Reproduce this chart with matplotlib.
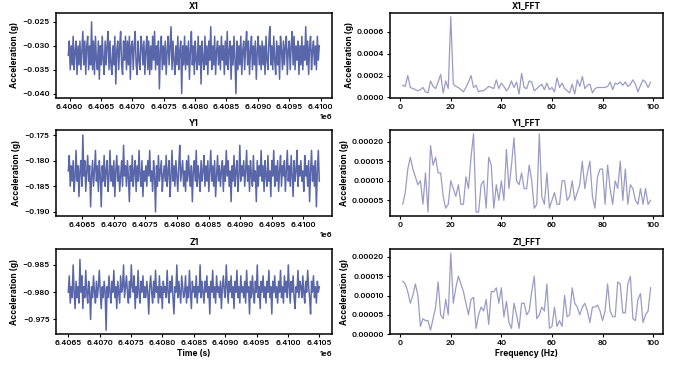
import numpy as np
import matplotlib
matplotlib.use("Agg")
import matplotlib.pyplot as plt
from matplotlib.ticker import FormatStrFormatter

# ---- time domain samples (milli-g), evenly sampled between start/end ----
x1_t_start, x1_t_end = 6.40598e6, 6.40998e6
y1_t_start, y1_t_end = 6.40628e6, 6.41025e6
z1_t_start, z1_t_end = 6.40650e6, 6.41050e6

x1_mg = [
    -32, -29, -35, -30, -34, -28, -35, -31, -29, -36, -30, -34, -29, -35, -31, -27, -34, -29, -36, -30,
    -28, -35, -30, -34, -25, -35, -29, -36, -28, -33, -35, -29, -37, -30, -34, -28, -33, -36, -29, -34,
    -30, -27, -35, -29, -34, -36, -30, -34, -28, -38, -31, -29, -35, -30, -27, -34, -36, -29, -33, -28,
    -35, -29, -34, -28, -37, -30, -29, -35, -30, -27, -34, -36, -29, -33, -35, -28, -30, -34, -29, -36,
    -31, -28, -35, -29, -36, -30, -35, -28, -33, -27, -35, -30, -34, -29, -39, -31, -28, -35, -30, -34,
    -29, -36, -31, -28, -34, -30, -26, -35, -29, -33, -36, -30, -34, -28, -35, -31, -29, -40, -30, -34,
    -28, -35, -30, -34, -29, -37, -31, -27, -34, -30, -36, -29, -33, -35, -28, -34, -30, -38, -29, -33,
    -35, -28, -34, -30, -36, -29, -33, -26, -35, -30, -34, -28, -36, -31, -29, -34, -30, -35, -28, -33,
    -30, -36, -29, -34, -27, -35, -31, -29, -37, -30, -34, -28, -33, -40, -29, -35, -30, -34, -28, -36,
    -31, -29, -35, -30, -27, -34, -29, -36, -31, -28, -35, -30, -34, -29, -37, -31, -28, -34, -30, -35,
    -29, -34, -30, -36, -28, -33, -35, -29, -26, -34, -30, -35, -28, -33, -36, -29, -34, -30, -37, -28,
    -31, -35, -29, -34, -30, -28, -36, -31, -29, -35, -30, -27, -34, -28, -35, -30, -33, -29, -36, -30,
    -34, -28, -35, -30, -33, -26, -34, -29, -36, -30, -28, -35, -31, -29, -34, -30, -35, -28, -33, -30,
]

y1_mg = [
    -182, -179, -185, -181, -184, -180, -186, -183, -178, -184, -181, -187, -182, -180, -185, -175, -183, -180, -186, -182,
    -179, -184, -181, -189, -183, -180, -185, -182, -178, -184, -181, -186, -180, -183, -189, -181, -184, -179, -185, -182,
    -180, -186, -183, -178, -184, -181, -185, -180, -187, -182, -179, -184, -181, -186, -183, -180, -185, -177, -183, -181,
    -185, -180, -183, -188, -181, -184, -179, -185, -182, -180, -186, -181, -184, -178, -183, -185, -180, -187, -182, -184,
    -181, -185, -180, -183, -178, -184, -182, -186, -180, -183, -190, -181, -185, -179, -184, -182, -180, -186, -183, -181,
    -184, -179, -185, -182, -180, -187, -183, -178, -184, -181, -185, -180, -183, -186, -181, -177, -184, -182, -180, -185,
    -182, -186, -180, -184, -179, -183, -185, -181, -188, -182, -180, -184, -178, -185, -181, -183, -186, -180, -184, -182,
    -179, -185, -181, -184, -180, -186, -182, -178, -184, -181, -185, -180, -187, -183, -179, -184, -181, -185, -182, -180,
    -186, -181, -184, -178, -183, -180, -185, -182, -188, -181, -184, -179, -185, -182, -180, -186, -183, -177, -184, -181,
    -183, -180, -185, -182, -178, -184, -181, -186, -180, -183, -185, -179, -184, -182, -188, -180, -185, -181, -183, -178,
    -184, -181, -186, -180, -183, -185, -179, -184, -182, -187, -180, -183, -178, -185, -181, -184, -180, -186, -182, -179,
    -185, -181, -183, -180, -186, -182, -178, -184, -181, -185, -179, -183, -187, -180, -184, -182, -178, -185, -181, -183,
    -180, -184, -182, -186, -179, -183, -181, -185, -180, -188, -182, -178, -184, -181, -185, -180, -189, -182, -178, -184,
]

z1_mg = [
    -980, -983, -978, -981, -979, -985, -980, -977, -982, -979, -981, -978, -986, -980, -983, -977, -981, -979, -984, -980,
    -978, -982, -980, -975, -981, -979, -983, -980, -978, -982, -979, -981, -984, -980, -977, -981, -979, -982, -980, -973,
    -981, -979, -983, -980, -978, -982, -980, -984, -979, -981, -977, -982, -980, -978, -983, -980, -981, -985, -979, -981,
    -983, -980, -978, -982, -979, -985, -981, -980, -983, -977, -981, -979, -984, -980, -978, -982, -980, -983, -979, -981,
    -979, -982, -980, -976, -981, -983, -980, -978, -982, -979, -984, -980, -981, -978, -983, -979, -981, -977, -982, -980,
    -981, -979, -984, -980, -978, -982, -980, -983, -979, -976, -981, -980, -985, -979, -982, -980, -978, -983, -981, -979,
    -980, -983, -978, -981, -979, -984, -980, -977, -982, -980, -981, -979, -983, -978, -981, -980, -985, -979, -982, -980,
    -978, -982, -980, -983, -979, -981, -976, -982, -980, -984, -979, -981, -978, -983, -980, -981, -979, -982, -977, -981,
    -983, -980, -979, -985, -981, -978, -982, -980, -983, -979, -981, -977, -982, -980, -984, -979, -981, -978, -983, -980,
    -981, -979, -982, -978, -984, -980, -981, -976, -982, -979, -983, -980, -978, -982, -980, -985, -979, -981, -977, -982,
    -980, -983, -979, -981, -978, -982, -980, -984, -979, -981, -976, -982, -980, -983, -979, -981, -978, -982, -980, -984,
    -979, -981, -978, -983, -980, -982, -979, -985, -981, -978, -982, -980, -983, -979, -977, -981, -980, -984, -979, -982,
    -981, -979, -983, -980, -978, -982, -980, -984, -981, -979, -976, -982, -980, -983, -979, -981, -978, -982, -980, -981,
]

# ---- FFT magnitudes (units of 1e-5 g) at 1..99 Hz ----
freq_hz = list(range(1, 100))

x1_fft = [
    11, 10, 20, 9, 8, 7, 6, 7, 9, 5, 4, 15, 10, 8, 14, 21, 4, 15, 8, 74,
    12, 10, 9, 7, 5, 9, 14, 20, 9, 11, 5, 6, 6, 8, 10, 9, 8, 16, 8, 13,
    10, 6, 9, 15, 9, 14, 3, 22, 9, 8, 15, 14, 6, 8, 10, 12, 7, 13, 7, 9,
    5, 18, 9, 13, 8, 6, 4, 12, 3, 16, 10, 19, 8, 11, 12, 4, 8, 9, 9, 9,
    9, 10, 14, 7, 13, 12, 14, 11, 14, 10, 12, 16, 12, 5, 11, 16, 14, 9, 14,
]

y1_fft = [
    4, 7, 13, 16, 13, 11, 9, 10, 4, 12, 2, 19, 14, 16, 12, 12, 6, 3, 4, 10,
    8, 6, 9, 4, 4, 11, 8, 16, 22, 2, 2, 9, 10, 3, 16, 14, 3, 9, 5, 10,
    5, 18, 8, 14, 21, 10, 9, 12, 8, 8, 14, 10, 3, 4, 22, 6, 4, 12, 3, 5,
    7, 4, 4, 10, 10, 5, 6, 10, 5, 7, 9, 15, 8, 12, 15, 6, 3, 11, 13, 13,
    4, 14, 8, 4, 10, 8, 15, 5, 13, 4, 9, 8, 5, 4, 8, 4, 8, 4, 5,
]

z1_fft = [
    13.7, 13, 11, 8, 10, 13, 10, 2, 4, 3.5, 3.5, 1, 4, 7, 13.5, 5, 4, 9, 5, 21,
    8, 12, 15, 13, 11, 8, 5, 9, 9.5, 1.5, 5, 7, 6, 9, 2.5, 11, 11, 12, 8, 12,
    4.5, 8.5, 3, 1.5, 8, 5, 1.5, 8, 8, 5, 6, 11, 15, 4, 5, 7, 6, 13, 1.5, 2,
    7, 2, 3.5, 2, 10, 4.5, 5, 12, 8, 7, 5, 7, 8, 6, 3, 7, 7, 7.5, 6, 3.5,
    6, 13, 6, 4.5, 4.5, 13.5, 13, 5.5, 5.5, 13, 15, 4, 3.5, 9, 10.5, 3, 5, 6, 12,
]

plt.rcParams['font.family'] = ['Inter', 'DejaVu Sans']
plt.rcParams['font.weight'] = 'semibold'
plt.rcParams['font.size'] = 5.5
plt.rcParams['axes.linewidth'] = 1.1
plt.rcParams['xtick.major.size'] = 2.5
plt.rcParams['ytick.major.size'] = 2.5
plt.rcParams['xtick.major.pad'] = 2
plt.rcParams['ytick.major.pad'] = 2

fig = plt.figure(figsize=(6.8, 3.68), dpi=100)

ts_color = '#22338c'
fft_color = '#9a9cc6'

rows = [0.734, 0.413, 0.092]
heights = [0.231, 0.234, 0.231]
left_x, left_w = 0.082, 0.406
right_x, right_w = 0.574, 0.401

series = [
    ("X1", x1_t_start, x1_t_end, x1_mg, x1_fft, (-0.0409, -0.0231)),
    ("Y1", y1_t_start, y1_t_end, y1_mg, y1_fft, (-0.1908, -0.1740)),
    ("Z1", z1_t_start, z1_t_end, z1_mg, z1_fft, (-0.9879, -0.9723)),
]

fft_ticks = {
    "X1": ([0, 2e-4, 4e-4, 6e-4], '%.4f'),
    "Y1": ([5e-5, 1e-4, 1.5e-4, 2e-4], '%.5f'),
    "Z1": ([0, 5e-5, 1e-4, 1.5e-4, 2e-4], '%.5f'),
}

for i, (name, t0, t1, vals, fft_vals, ylim) in enumerate(series):
    ax = fig.add_axes([left_x, rows[i], left_w, heights[i]])
    v = np.array(vals) / 1000.0
    t = np.linspace(t0, t1, len(v))
    ax.plot(t, v, color=ts_color, lw=1.1, alpha=0.75)
    ax.set_ylim(*ylim)
    if name == "Z1":
        ax.invert_yaxis()
        ax.set_xlabel("Time (s)", fontweight='bold', fontsize=6, labelpad=2)
    ax.ticklabel_format(axis='x', useOffset=False)
    ax.set_title(name, fontweight='bold', fontsize=6, pad=3)
    ax.set_ylabel("Acceleration (g)", fontweight='bold', fontsize=6, labelpad=2)

    axf = fig.add_axes([right_x, rows[i], right_w, heights[i]])
    axf.plot(freq_hz, np.array(fft_vals) * 1e-5, color=fft_color, lw=0.9)
    axf.set_xticks([0, 20, 40, 60, 80, 100])
    ticks, fmt = fft_ticks[name]
    axf.set_yticks(ticks)
    axf.yaxis.set_major_formatter(FormatStrFormatter(fmt))
    if name == "Z1":
        axf.set_ylim(bottom=0)
        axf.set_xlabel("Frequency (Hz)", fontweight='bold', fontsize=6, labelpad=2)
    axf.set_title(name + "_FFT", fontweight='bold', fontsize=6, pad=3)
    axf.set_ylabel("Acceleration (g)", fontweight='bold', fontsize=6, labelpad=2)

plt.savefig("out.png", dpi=100)
